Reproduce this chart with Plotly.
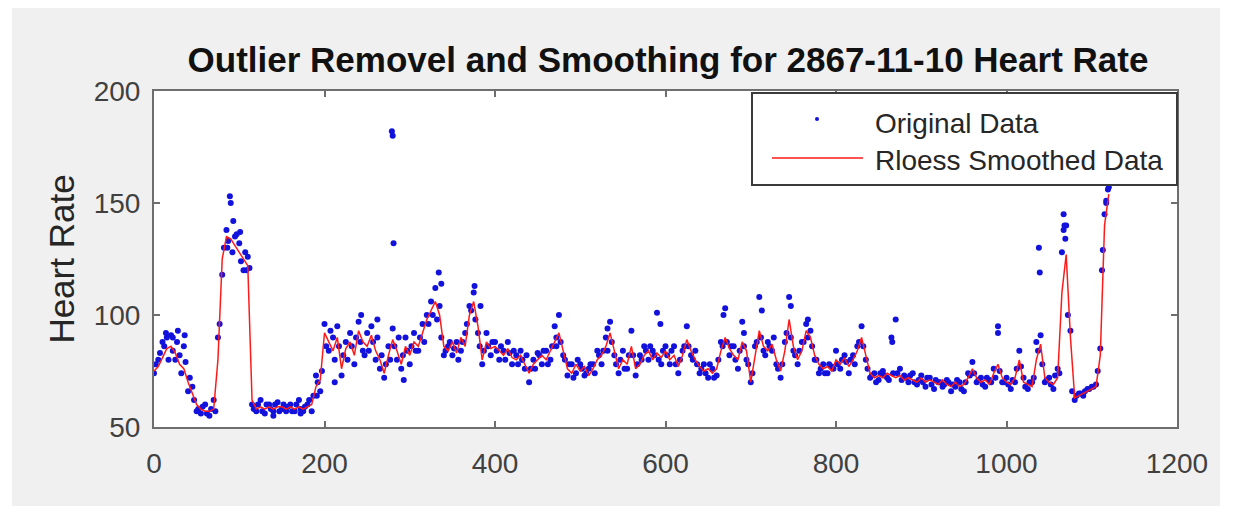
import plotly.graph_objects as go

# ---------------- data ----------------
sample_x = list(range(0, 1121, 5))
sample_x_b = list(range(2, 1118, 5))

smoothed_hr = [
    # 0-195
    75, 77, 81, 85, 86, 83, 78, 76, 70, 65, 60, 58, 57, 57, 58, 80, 125, 135, 134, 131,
    128, 125, 122, 62, 58, 59, 58, 59, 58, 59, 59, 58, 59, 58, 59, 58, 59, 60, 68, 71,
    # 200-395
    92, 88, 84, 90, 76, 85, 88, 82, 93, 88, 86, 91, 84, 80, 74, 82, 89, 84, 78, 86,
    82, 88, 86, 92, 98, 102, 106, 100, 86, 84, 88, 83, 90, 86, 100, 106, 95, 80, 88, 85,
    # 400-595
    86, 84, 82, 85, 81, 80, 82, 78, 74, 78, 80, 82, 80, 84, 88, 92, 84, 76, 74, 78,
    75, 77, 73, 76, 80, 82, 86, 92, 84, 76, 80, 78, 86, 76, 78, 82, 84, 80, 83, 81,
    # 600-795
    84, 80, 82, 77, 82, 89, 84, 80, 77, 75, 76, 74, 76, 84, 90, 85, 82, 80, 88, 84,
    70, 82, 93, 86, 84, 87, 80, 75, 84, 98, 86, 80, 84, 93, 90, 82, 78, 76, 77, 75,
    # 800-995
    80, 78, 81, 77, 80, 84, 90, 82, 74, 72, 73, 72, 74, 73, 72, 73, 71, 72, 71, 70,
    72, 70, 71, 70, 69, 71, 69, 68, 70, 68, 69, 72, 76, 72, 70, 71, 69, 74, 78, 72,
    # 1000-1120
    70, 69, 72, 80, 70, 69, 68, 80, 87, 72, 70, 69, 72, 110, 127, 90, 63, 64, 65, 66,
    67, 68, 82, 140, 154,
]

original_hr = [
    # 0-195
    74, 80, 88, 90, 91, 80, 82, 86, 66, 68, 57, 56, 60, 55, 62, 90, 118, 138, 150, 135,
    132, 120, 126, 60, 57, 62, 56, 60, 57, 61, 58, 57, 60, 57, 62, 57, 60, 57, 73, 66,
    # 200-395
    96, 84, 90, 95, 73, 88, 92, 78, 97, 84, 92, 95, 80, 76, 72, 86, 94, 80, 76, 90,
    78, 92, 84, 96, 100, 106, 112, 104, 82, 86, 82, 88, 84, 92, 104, 110, 92, 78, 92, 82,
    # 400-595
    88, 80, 84, 88, 78, 82, 84, 76, 70, 80, 83, 78, 84, 80, 95, 100, 82, 73, 78, 74,
    78, 73, 76, 78, 84, 78, 90, 97, 82, 74, 84, 76, 93, 73, 82, 86, 80, 84, 101, 78,
    # 600-795
    86, 78, 86, 74, 84, 95, 82, 84, 74, 78, 72, 76, 73, 88, 103, 82, 86, 76, 97, 80,
    70, 86, 108, 84, 88, 84, 78, 72, 88, 108, 84, 78, 88, 96, 93, 80, 74, 78, 74, 77,
    # 800-995
    84, 76, 82, 74, 82, 86, 95, 80, 72, 74, 71, 75, 72, 90, 98, 76, 73, 70, 74, 69,
    73, 68, 72, 67, 70, 68, 71, 66, 68, 70, 66, 74, 79, 70, 72, 68, 71, 76, 95, 70,
    # 1000-1120
    72, 67, 70, 84, 72, 67, 70, 88, 91, 70, 72, 67, 76, 128, 140, 93, 62, 65, 64, 67,
    68, 69, 85, 145, 157,
]

original_hr_b = [
    # 2-197
    78, 83, 86, 80, 84, 88, 74, 79, 72, 62, 58, 59, 56, 58, 57, 96, 130, 133, 128, 136,
    124, 128, 121, 58, 60, 57, 60, 58, 60, 57, 60, 59, 57, 60, 58, 59, 62, 64, 70, 75,
    # 202-397
    86, 93, 80, 86, 82, 80, 86, 90, 88, 82, 84, 88, 90, 82, 78, 80, 86, 90, 82, 84,
    86, 84, 90, 88, 96, 100, 98, 90, 84, 88, 85, 80, 88, 96, 102, 98, 86, 84, 86, 88,
    # 402-597
    84, 86, 80, 83, 84, 78, 80, 82, 76, 76, 82, 84, 78, 86, 86, 88, 80, 78, 72, 80,
    76, 74, 78, 74, 82, 84, 84, 88, 78, 80, 76, 82, 82, 78, 80, 84, 86, 82, 80, 84,
    # 602-797
    82, 84, 78, 80, 86, 86, 80, 78, 76, 74, 78, 72, 80, 86, 88, 86, 80, 84, 86, 78,
    74, 88, 90, 82, 86, 90, 76, 78, 92, 90, 82, 84, 88, 90, 86, 80, 76, 74, 78, 76,
    # 802-997
    78, 80, 79, 80, 78, 88, 86, 76, 73, 70, 74, 73, 71, 74, 74, 71, 72, 73, 70, 71,
    70, 72, 69, 71, 70, 69, 70, 69, 71, 67, 70, 73, 74, 71, 69, 72, 70, 72, 75, 70,
    # 1002-1117
    69, 71, 76, 77, 68, 70, 72, 84, 78, 71, 69, 73, 74, 138, 100, 66, 64, 65, 66, 67,
    68, 75, 120, 150,
]

extra_x = [14, 22, 28, 36, 86, 89, 93, 101, 108, 140, 172, 191, 279, 280, 281, 334, 337,
           376, 383, 212, 243, 262, 293, 432, 472, 532, 594, 668, 692, 713, 747, 767, 866,
           990, 1038, 1039, 1067, 1068, 1069, 1113, 1117, 1119]
extra_y = [92, 90, 93, 91, 130, 153, 142, 137, 120, 55, 56, 64, 182, 180, 132, 119, 114,
           113, 104, 70, 100, 98, 71, 80, 90, 94, 96, 100, 92, 102, 104, 98, 88,
           92, 130, 119, 145, 140, 134, 129, 151, 156]

x_ticks = [0, 200, 400, 600, 800, 1000, 1200]
y_ticks = [50, 100, 150, 200]

title_text = "Outlier Removel and Smoothing for 2867-11-10 Heart Rate"
legend_labels = ["Original Data", "Rloess Smoothed Data"]

# ---------------- figure ----------------
FONT = "Liberation Sans, Arial, Helvetica, sans-serif"
AX = "#6e6e6e"
TXT = "#262626"
OFF = 8  # page offset of the figure inside the window

fig = go.Figure()
fig.add_trace(go.Scatter(
    x=sample_x + sample_x_b + extra_x, y=original_hr + original_hr_b + extra_y,
    mode="markers",
    marker=dict(color="#1212dc", size=6, line=dict(width=0)),
    name=legend_labels[0], showlegend=False,
))
fig.add_trace(go.Scatter(
    x=sample_x, y=smoothed_hr, mode="lines",
    line=dict(color="#ff1a1a", width=1.5),
    name=legend_labels[1], showlegend=False,
))

# plot area in screen px: x 154..1177, y 91..427
L, R, T, B = 154, 1177, 91, 427
W, H = R - L, B - T
FIG_W, FIG_H = 1234, 506


def px(xp):
    return (xp - L) / W


def py(yp):
    return (B - yp) / H


shapes = []
# white strips where the reference shows no gray
for (x0, y0, x1, y1) in [(0, 0, 12, 520), (1220, 0, 1260, 520)]:
    shapes.append(dict(type="rect", xref="paper", yref="paper",
                       x0=px(x0), x1=px(x1), y0=py(y1), y1=py(y0),
                       fillcolor="white", line=dict(width=0), layer="below"))
# legend box
shapes.append(dict(type="rect", xref="paper", yref="paper",
                   x0=px(752), x1=px(1177), y0=py(185), y1=py(93),
                   fillcolor="white", line=dict(color="#3a3a3a", width=2), layer="above"))
# legend line sample
shapes.append(dict(type="line", xref="paper", yref="paper",
                   x0=px(772), x1=px(863), y0=py(158), y1=py(158),
                   line=dict(color="#ff1a1a", width=1.5), layer="above"))
# legend dot sample
shapes.append(dict(type="circle", xref="paper", yref="paper",
                   x0=px(815), x1=px(819), y0=py(121), y1=py(117),
                   fillcolor="#1212dc", line=dict(width=0), layer="above"))

annotations = [
    dict(text=legend_labels[0], xref="paper", yref="paper", x=px(873), y=py(123),
         xanchor="left", yanchor="middle", showarrow=False,
         font=dict(family=FONT, size=28, color=TXT)),
    dict(text=legend_labels[1], xref="paper", yref="paper", x=px(873), y=py(160),
         xanchor="left", yanchor="middle", showarrow=False,
         font=dict(family=FONT, size=28, color=TXT)),
]

fig.update_layout(
    width=FIG_W, height=FIG_H,
    margin=dict(l=L - OFF, r=FIG_W - (R - OFF), t=T - OFF, b=FIG_H - (B - OFF), pad=0),
    paper_bgcolor="#f0f0f0", plot_bgcolor="white",
    title=dict(text=f"<b>{title_text}</b>", x=px(668), xref="paper", xanchor="center",
               y=1 - (60 - OFF) / FIG_H, yref="container", yanchor="middle",
               font=dict(family=FONT, size=35, color="#111111")),
    shapes=shapes, annotations=annotations,
    showlegend=False,
    font=dict(family=FONT, color=TXT),
)
fig.update_xaxes(
    range=[0, 1200], tickvals=x_ticks, ticktext=[str(v) for v in x_ticks],
    showgrid=False, zeroline=False, showline=True, linecolor=AX, linewidth=2,
    mirror="ticks", ticks="inside", ticklen=6, tickcolor=AX, tickwidth=1.5,
    tickfont=dict(family=FONT, size=28, color="#404040"), ticklabelstandoff=10,
)
fig.update_yaxes(
    range=[50, 200], tickvals=y_ticks, ticktext=[str(v) for v in y_ticks],
    showgrid=False, zeroline=False, showline=True, linecolor=AX, linewidth=2,
    mirror="ticks", ticks="inside", ticklen=6, tickcolor=AX, tickwidth=1.5,
    tickfont=dict(family=FONT, size=28, color="#404040"), ticklabelstandoff=6,
    title=dict(text="Heart Rate", font=dict(family=FONT, size=35, color=TXT), standoff=8),
)

fig.write_html("out.html")
